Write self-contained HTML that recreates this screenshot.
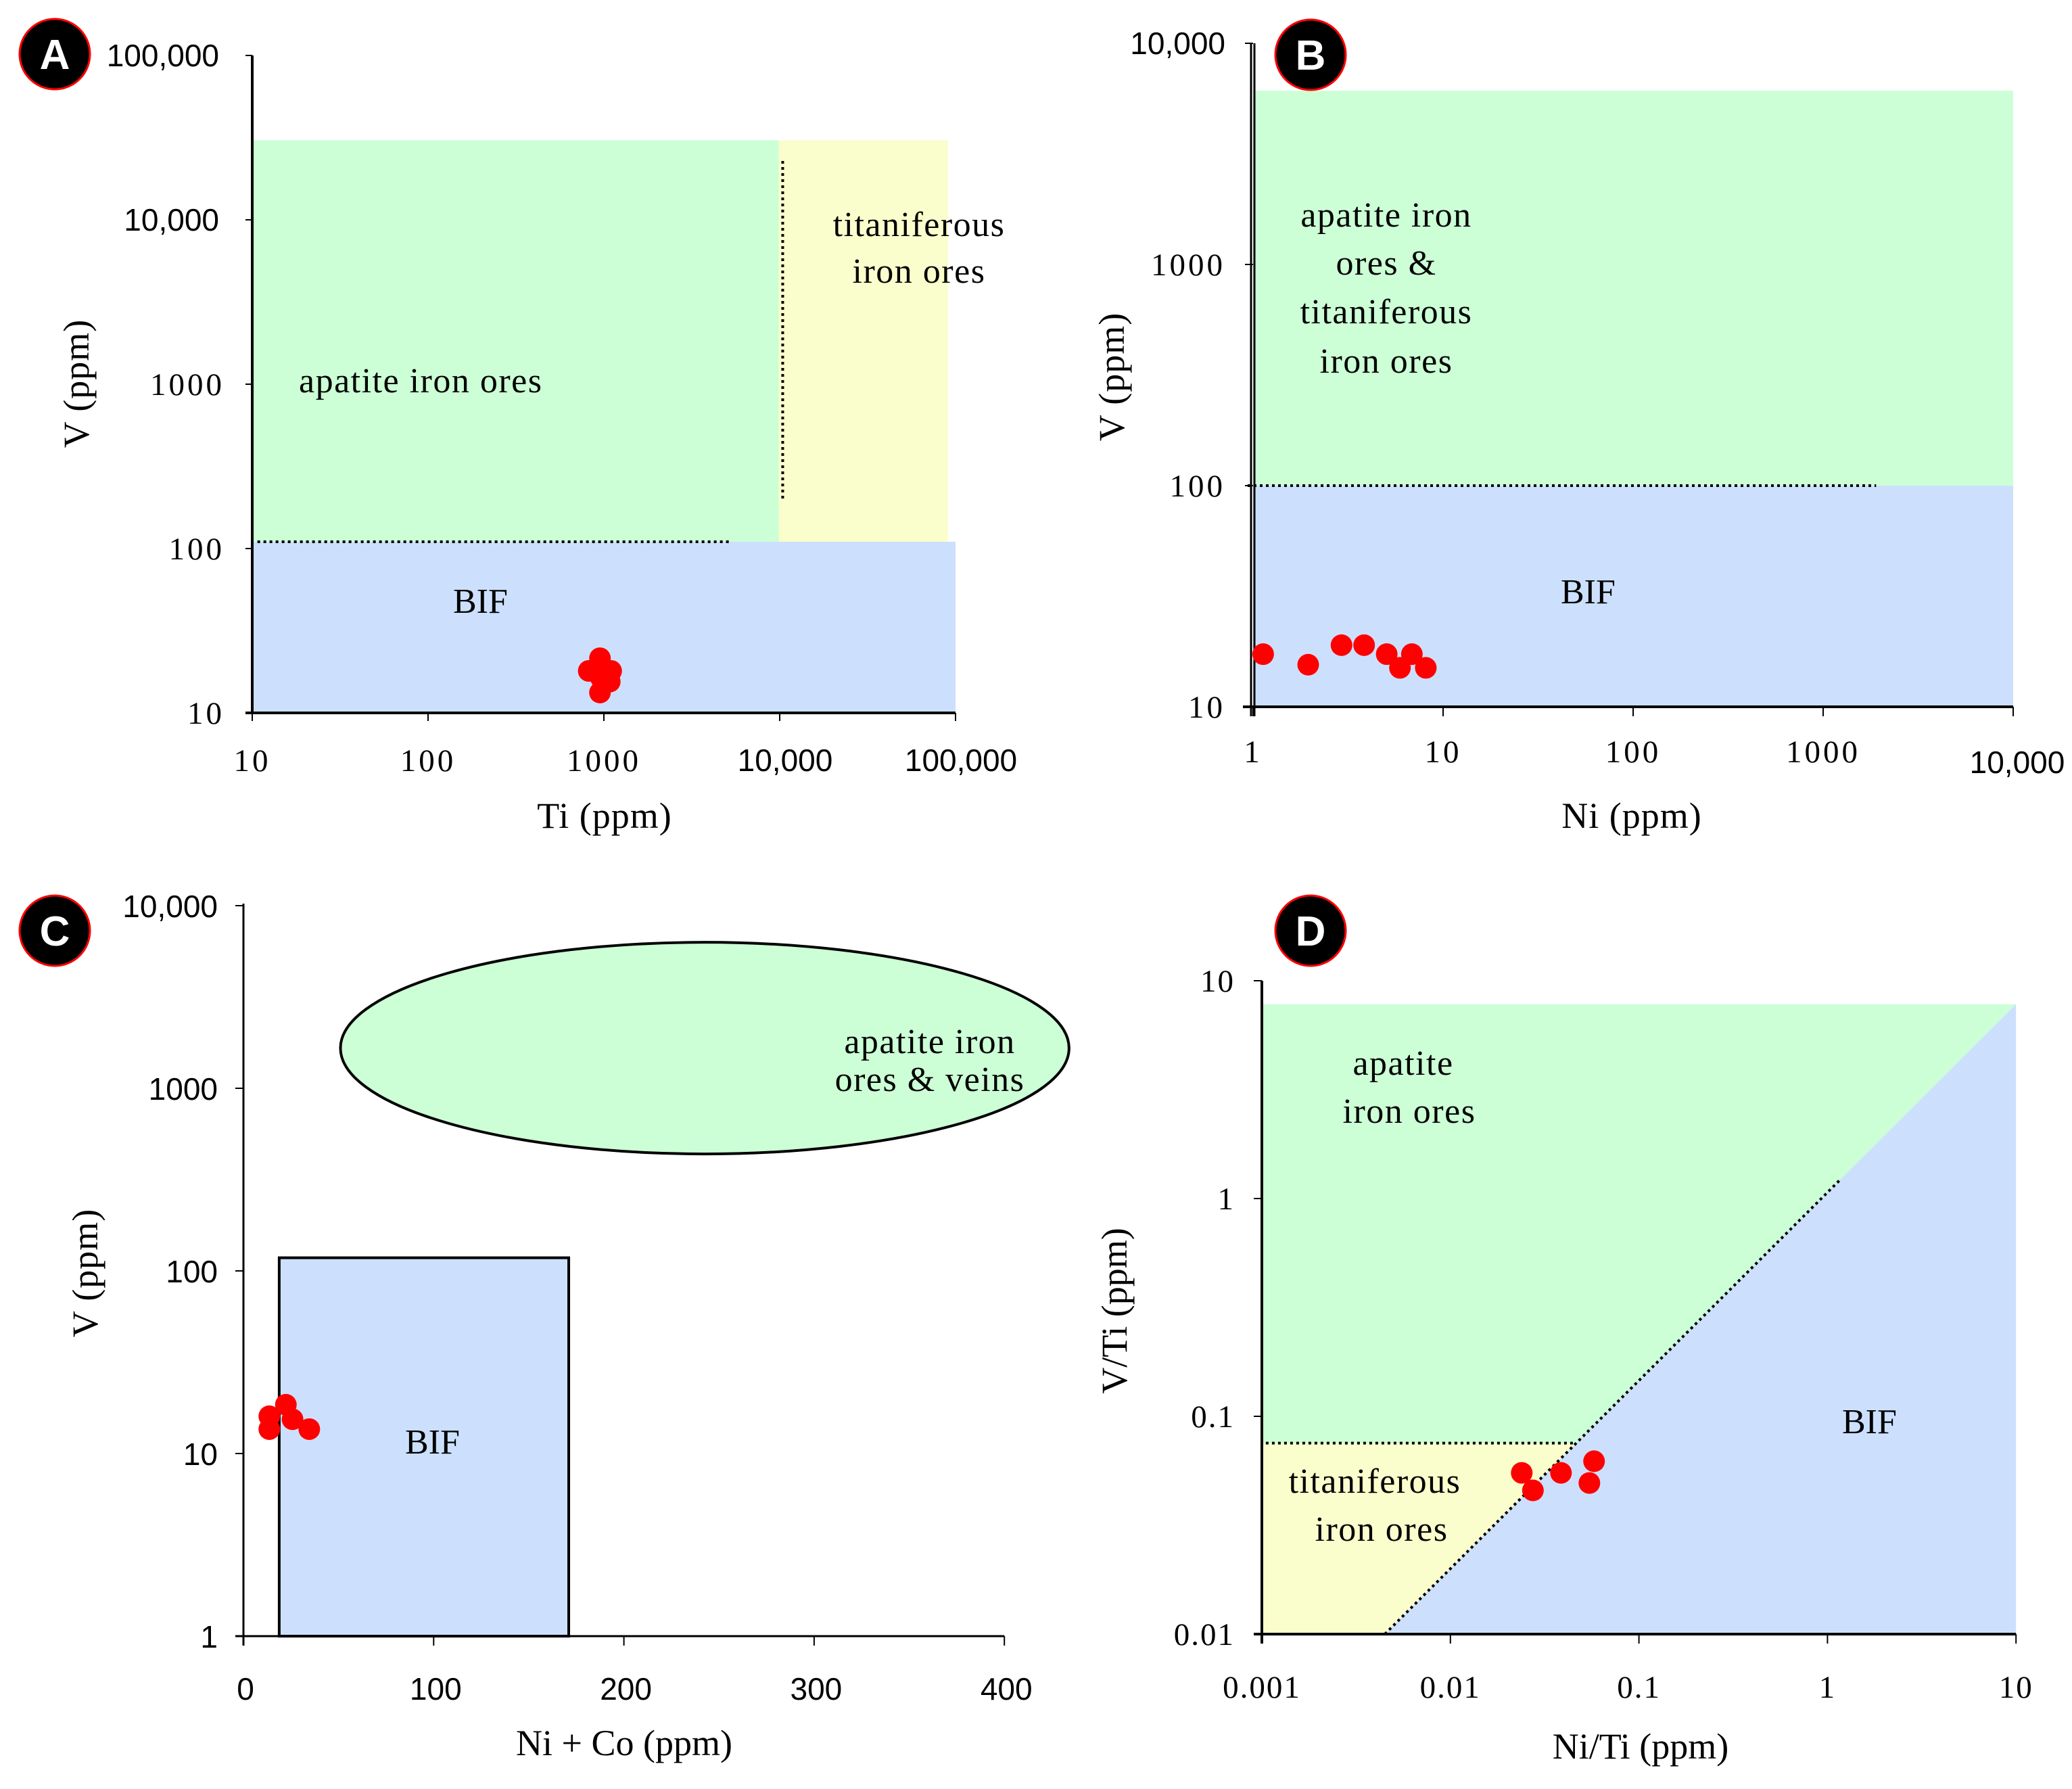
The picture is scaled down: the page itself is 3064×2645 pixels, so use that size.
<!DOCTYPE html>
<html><head><meta charset="utf-8"><style>
html,body{margin:0;padding:0;background:#fff;}
svg{display:block;}
.sans{font-family:"Liberation Sans",Arial,sans-serif;}
.serif{font-family:"Liberation Serif","Times New Roman",serif;}
</style></head><body>
<svg id="fig" width="3064" height="2645" viewBox="0 0 3064 2645" xmlns="http://www.w3.org/2000/svg">
<rect x="0" y="0" width="3064" height="2645" fill="#fff"/>
<g id="regions"></g>
<g id="axes"></g>
<g id="labels" class="serif" font-size="52" fill="#000">
  <!-- Panel A -->
  <text x="442" y="580" letter-spacing="1.5">apatite iron ores</text>
  <text x="1359" y="349" text-anchor="middle" letter-spacing="1.5">titaniferous</text>
  <text x="1359" y="418" text-anchor="middle" letter-spacing="1.5">iron ores</text>
  <text x="670" y="906">BIF</text>
  <!-- Panel B -->
  <text x="2050" y="335" text-anchor="middle" letter-spacing="1.5">apatite iron</text>
  <text x="2050" y="406" text-anchor="middle" letter-spacing="1.5">ores &amp;</text>
  <text x="2050" y="478" text-anchor="middle" letter-spacing="1.5">titaniferous</text>
  <text x="2050" y="551" text-anchor="middle" letter-spacing="1.5">iron ores</text>
  <text x="2308" y="892">BIF</text>
  <!-- Panel C -->
  <text x="1375" y="1557" text-anchor="middle" letter-spacing="1.5">apatite iron</text>
  <text x="1375" y="1613" text-anchor="middle" letter-spacing="1.5">ores &amp; veins</text>
  <text x="599" y="2149">BIF</text>
  <!-- Panel D -->
  <text x="2075" y="1589" text-anchor="middle" letter-spacing="1.5">apatite</text>
  <text x="2084" y="1660" text-anchor="middle" letter-spacing="1.5">iron ores</text>
  <text x="2033" y="2207" text-anchor="middle" letter-spacing="1.5">titaniferous</text>
  <text x="2043" y="2278" text-anchor="middle" letter-spacing="1.5">iron ores</text>
  <text x="2724" y="2119">BIF</text>
</g>
<g id="titles" class="serif" font-size="54" fill="#000">
  <text x="894" y="1224" text-anchor="middle" letter-spacing="1">Ti  (ppm)</text>
  <text transform="translate(131,567) rotate(-90)" text-anchor="middle" letter-spacing="1">V (ppm)</text>
  <text x="2413" y="1224" text-anchor="middle" letter-spacing="1">Ni  (ppm)</text>
  <text transform="translate(1662,557) rotate(-90)" text-anchor="middle" letter-spacing="1">V (ppm)</text>
  <text x="923" y="2595" text-anchor="middle">Ni + Co (ppm)</text>
  <text transform="translate(144,1882) rotate(-90)" text-anchor="middle" letter-spacing="1">V (ppm)</text>
  <text x="2426" y="2600" text-anchor="middle">Ni/Ti (ppm)</text>
  <text transform="translate(1666,1938) rotate(-90)" text-anchor="middle">V/Ti (ppm)</text>
</g>
<g id="ticklabels" fill="#000"></g>
<g id="points"></g>
<g id="badges">
  <circle cx="81" cy="80" r="52" fill="#000" stroke="#f00" stroke-width="3"/>
  <text x="81" y="102" text-anchor="middle" class="sans" font-weight="bold" font-size="62" fill="#fff">A</text>
  <circle cx="1938" cy="81" r="52" fill="#000" stroke="#f00" stroke-width="3"/>
  <text x="1938" y="103" text-anchor="middle" class="sans" font-weight="bold" font-size="62" fill="#fff">B</text>
  <circle cx="81" cy="1376" r="52" fill="#000" stroke="#f00" stroke-width="3"/>
  <text x="81" y="1398" text-anchor="middle" class="sans" font-weight="bold" font-size="62" fill="#fff">C</text>
  <circle cx="1938" cy="1376" r="52" fill="#000" stroke="#f00" stroke-width="3"/>
  <text x="1938" y="1398" text-anchor="middle" class="sans" font-weight="bold" font-size="62" fill="#fff">D</text>
</g>
</svg>
<script>
// ---- Panel A data (Ti vs V) ----
const aTi = [950, 820, 1100, 1080, 950, 960];
const aV = [21.5, 18, 18, 15.5, 13.3, 16.4];
const aXTicks = [10, 100, 1000, 10000, 100000];
const aXTickLabels = ["10", "100", "1000", "10,000", "100,000"];
const aYTicks = [10, 100, 1000, 10000, 100000];
const aYTickLabels = ["10", "100", "1000", "10,000", "100,000"];
// ---- Panel B data (Ni vs V) ----
const bNi = [1.13, 1.95, 2.92, 3.84, 5.05, 6.85, 5.93, 8.11];
const bV = [17.3, 15.5, 19, 19, 17.3, 17.3, 15.0, 15.0];
const bXTicks = [1, 10, 100, 1000, 10000];
const bXTickLabels = ["1", "10", "100", "1000", "10,000"];
const bYTicks = [10, 100, 1000, 10000];
const bYTickLabels = ["10", "100", "1000", "10,000"];
// ---- Panel C data (Ni+Co vs V) ----
const cNiCo = [13.6, 13.6, 22.3, 25.8, 34.6];
const cV = [16, 13.6, 18.5, 15.4, 13.6];
const cXTicks = [0, 100, 200, 300, 400];
const cXTickLabels = ["0", "100", "200", "300", "400"];
const cYTicks = [1, 10, 100, 1000, 10000];
const cYTickLabels = ["1", "10", "100", "1000", "10,000"];
// ---- Panel D data (Ni/Ti vs V/Ti) ----
const dNiTi = [0.0239, 0.0274, 0.0386, 0.0578, 0.0546];
const dVTi = [0.055, 0.0457, 0.055, 0.0622, 0.0494];
const dXTicks = [0.001, 0.01, 0.1, 1, 10];
const dXTickLabels = ["0.001", "0.01", "0.1", "1", "10"];
const dYTicks = [0.01, 0.1, 1, 10];
const dYTickLabels = ["0.01", "0.1", "1", "10"];

const NS = "http://www.w3.org/2000/svg";
const L = Math.log10;
function mk(tag, attrs, parent) {
  const e = document.createElementNS(NS, tag);
  for (const k in attrs) e.setAttribute(k, attrs[k]);
  parent.appendChild(e);
  return e;
}
const gReg = document.getElementById('regions');
const gAx = document.getElementById('axes');
const gTl = document.getElementById('ticklabels');
const gPt = document.getElementById('points');
const GREEN = "#ccffd6", YELLOW = "#fafdcc", BLUE = "#cce0fe";

const xA = v => 373 + (L(v) - 1) * 260;
const yA = v => 1054 - (L(v) - 1) * 243;
const xB = v => 1853 + L(v) * 281;
const yB = v => 1045 - (L(v) - 1) * 327;
const xC = v => 360 + v * 2.813;
const yC = v => 2419 - L(v) * 270;
const xD = v => 1866 + (L(v) + 3) * 278.8;
const yD = v => 2416 - (L(v) + 2) * 322;

function rect(x0, y0, x1, y1, fill, name) {
  const r = mk('rect', {x: Math.min(x0, x1), y: Math.min(y0, y1), width: Math.abs(x1 - x0), height: Math.abs(y1 - y0), fill: fill}, gReg);
  
  
  return r;
}
function dotted(x1, y1, x2, y2, name) {
  const l = mk('line', {x1: x1, y1: y1, x2: x2, y2: y2, stroke: '#000', 'stroke-width': 4, 'stroke-dasharray': '4 5'}, gAx);
  
  
}
function axisLine(x1, y1, x2, y2, name, w) {
  const l = mk('line', {x1: x1, y1: y1, x2: x2, y2: y2, stroke: '#000', 'stroke-width': w || 4}, gAx);
  
  
}
function tickLabel(x, y, txt, anchor, cls, size, name, ls) {
  const t = mk('text', {x: x, y: y, 'text-anchor': anchor, 'class': cls, 'font-size': size}, gTl);
  if (ls) t.setAttribute('letter-spacing', ls);
  t.textContent = txt;
  
  
}
function isSans(s) { return s.indexOf(',') >= 0; }
function dots(xs, ys, fx, fy, prefix) {
  for (let i = 0; i < xs.length; i++) {
    const c = mk('circle', {cx: fx(xs[i]), cy: fy(ys[i]), r: 16, fill: '#ff0000'}, gPt);
    
    
  }
}

// ===== Panel A =====
rect(xA(10), yA(30500), xA(9870), yA(110), GREEN, 'a-apatite-field');
rect(xA(9870), yA(30500), xA(90800), yA(110), YELLOW, 'a-titaniferous-field');
rect(xA(10), yA(110), xA(100000), yA(10), BLUE, 'a-bif-field');
dotted(xA(10.7), yA(110), xA(5200), yA(110), 'a-dotted-boundary-h');
dotted(xA(10400), yA(22800), xA(10400), yA(198), 'a-dotted-boundary-v');
axisLine(xA(10), yA(100000), xA(10), yA(10) + 2, 'a-y-axis');
axisLine(xA(10) - 10, yA(10), xA(100000), yA(10), 'a-x-axis');
aYTicks.forEach((v, i) => {
  axisLine(xA(10) - 10, yA(v), xA(10), yA(v), 'a-y-tick', 2);
  const s = aYTickLabels[i];
  tickLabel(isSans(s) ? 324 : 332, yA(v) + 16, s, 'end', isSans(s) ? 'sans' : 'serif', isSans(s) ? 46 : 47, 'a-y-tick-label', isSans(s) ? null : 4);
});
aXTicks.forEach((v, i) => {
  axisLine(xA(v), yA(10), xA(v), yA(10) + 12, 'a-x-tick', 2);
  const s = aXTickLabels[i];
  const off = isSans(s) ? 8 : 0;
  tickLabel(xA(v) + off, 1140, s, 'middle', isSans(s) ? 'sans' : 'serif', isSans(s) ? 46 : 47, 'a-x-tick-label', isSans(s) ? null : 4);
});
dots(aTi, aV, xA, yA, 'a');

// ===== Panel B =====
rect(xB(1), yB(6100), xB(10000), yB(100), GREEN, 'b-apatite-titaniferous-field');
rect(xB(1), yB(100), xB(10000), yB(10), BLUE, 'b-bif-field');
dotted(xB(1) - 8, yB(100), xB(1900), yB(100), 'b-dotted-boundary');
axisLine(xB(1) - 3, yB(10000), xB(1) - 3, yB(10) + 14, 'b-y-axis', 3);
axisLine(xB(1) + 2, yB(10000), xB(1) + 2, yB(10) + 14, 'b-y-axis-inner', 3);
axisLine(xB(1) - 15, yB(10), xB(10000), yB(10), 'b-x-axis');
bYTicks.forEach((v, i) => {
  axisLine(xB(1) - 12, yB(v), xB(1), yB(v), 'b-y-tick', 2);
  const s = bYTickLabels[i];
  tickLabel(1812, yB(v) + 16, s, 'end', isSans(s) ? 'sans' : 'serif', isSans(s) ? 46 : 47, 'b-y-tick-label', isSans(s) ? null : 4);
});
bXTicks.forEach((v, i) => {
  axisLine(xB(v), yB(10), xB(v), yB(10) + 14, 'b-x-tick', 2);
  const s = bXTickLabels[i];
  tickLabel(xB(v) + (isSans(s) ? 6 : 0), isSans(s) ? 1143 : 1127, s, 'middle', isSans(s) ? 'sans' : 'serif', isSans(s) ? 46 : 47, 'b-x-tick-label', isSans(s) ? null : 4);
});
dots(bNi, bV, xB, yB, 'b');

// ===== Panel C =====
{
  const ex0 = xC(51), ex1 = xC(434), ey0 = yC(6300), ey1 = yC(437);
  const e = mk('ellipse', {cx: (ex0 + ex1) / 2, cy: (ey0 + ey1) / 2, rx: (ex1 - ex0) / 2, ry: (ey1 - ey0) / 2, fill: GREEN, stroke: '#000', 'stroke-width': 4}, gReg);
  
  
  const r = rect(xC(18.8), yC(118), xC(171), yC(1), BLUE, 'c-bif-field');
  r.setAttribute('stroke', '#000');
  r.setAttribute('stroke-width', 4);
}
axisLine(xC(0), yC(10000) - 3, xC(0), yC(1) + 14, 'c-y-axis', 3);
axisLine(xC(0) - 12, yC(1), xC(400), yC(1), 'c-x-axis', 3);
cYTicks.forEach((v, i) => {
  axisLine(xC(0) - 12, yC(v), xC(0), yC(v), 'c-y-tick', 2);
  tickLabel(322, yC(v) + 17, cYTickLabels[i], 'end', 'sans', 46, 'c-y-tick-label');
});
cXTicks.forEach((v, i) => {
  axisLine(xC(v), yC(1), xC(v), yC(1) + 14, 'c-x-tick', 2);
  tickLabel(xC(v) + 3, 2513, cXTickLabels[i], 'middle', 'sans', 46, 'c-x-tick-label');
});
dots(cNiCo, cV, xC, yC, 'c');

// ===== Panel D =====
{
  const topV = 7.8, splitV = 0.0753;
  const lx0 = L(0.00449), ly0 = L(0.01), lx1 = L(10), ly1 = L(topV);
  const diagX = yv => Math.pow(10, lx0 + (L(yv) - ly0) * (lx1 - lx0) / (ly1 - ly0));
  const g = mk('polygon', {points: [[xD(0.001), yD(topV)], [xD(10), yD(topV)], [xD(diagX(splitV)), yD(splitV)], [xD(0.001), yD(splitV)]].map(p => p.join(',')).join(' '), fill: GREEN}, gReg);
  
  
  const y = mk('polygon', {points: [[xD(0.001), yD(splitV)], [xD(diagX(splitV)), yD(splitV)], [xD(0.00449), yD(0.01)], [xD(0.001), yD(0.01)]].map(p => p.join(',')).join(' '), fill: YELLOW}, gReg);
  
  
  const b = mk('polygon', {points: [[xD(0.00449), yD(0.01)], [xD(10), yD(topV)], [xD(10), yD(0.01)]].map(p => p.join(',')).join(' '), fill: BLUE}, gReg);
  
  
  dotted(xD(0.00105), yD(splitV), xD(diagX(splitV)), yD(splitV), 'd-dotted-boundary-h');
  dotted(xD(0.00449), yD(0.01), xD(diagX(1.23)), yD(1.23), 'd-dotted-boundary-diagonal');
}
axisLine(xD(0.001), yD(10), xD(0.001), yD(0.01) + 14, 'd-y-axis');
axisLine(xD(0.001) - 12, yD(0.01), xD(10), yD(0.01), 'd-x-axis');
dYTicks.forEach((v, i) => {
  axisLine(xD(0.001) - 12, yD(v), xD(0.001), yD(v), 'd-y-tick', 2);
  tickLabel(1826, yD(v) + 16, dYTickLabels[i], 'end', 'serif', 47, 'd-y-tick-label', 2);
});
dXTicks.forEach((v, i) => {
  axisLine(xD(v), yD(0.01), xD(v), yD(0.01) + 14, 'd-x-tick', 2);
  tickLabel(xD(v), 2510, dXTickLabels[i], 'middle', 'serif', 47, 'd-x-tick-label', 2);
});
dots(dNiTi, dVTi, xD, yD, 'd');
</script>
</body></html>
